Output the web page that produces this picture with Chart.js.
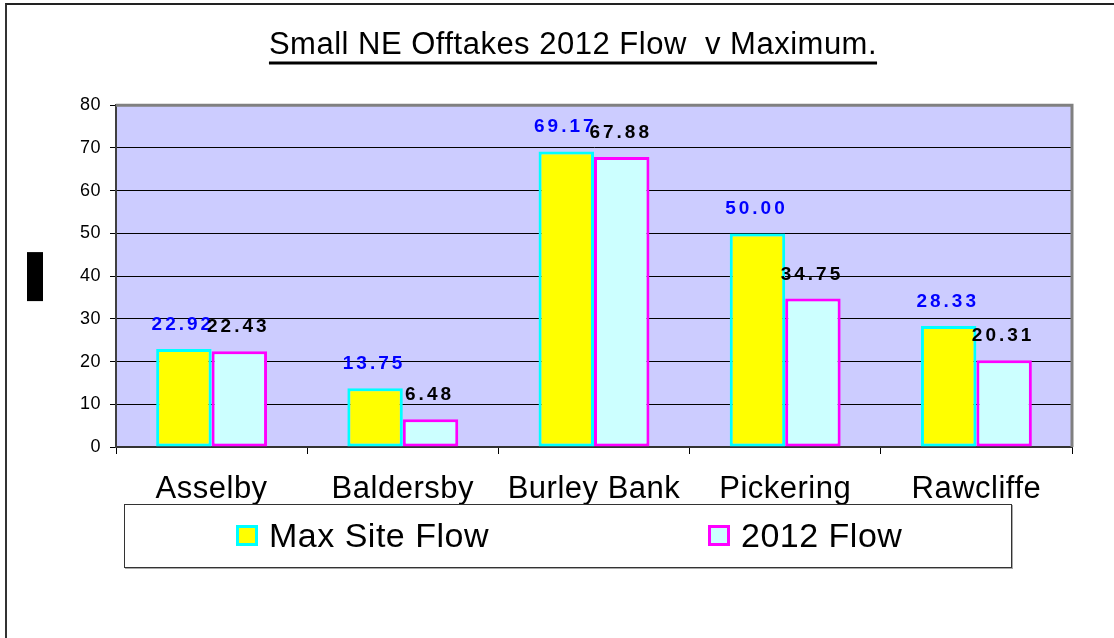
<!DOCTYPE html>
<html>
<head>
<meta charset="utf-8">
<title>Small NE Offtakes 2012 Flow v Maximum</title>
<script src="https://cdn.jsdelivr.net/npm/chart.js@4/dist/chart.umd.min.js"></script>
<style>
    body { margin: 0; background: #fff; font-family: "Liberation Sans", Arial, sans-serif; }
    #wrap { position: relative; width: 1114px; height: 638px; overflow: hidden; }
    #frame { position: absolute; left: 5px; top: 3px; width: 1200px; height: 700px;
             border-left: 2px solid #333; border-top: 2px solid #222; }
    #chart { position: absolute; left: 0; top: 0; }
    #legend { position: absolute; left: 124px; top: 504px; width: 886px; height: 62px;
              border: 1px solid #333; box-shadow: 1px 1px 0 #aaa; background: #fff; }
    .item { position: absolute; top: 0; height: 60px; display: flex; align-items: center;
            font-size: 34px; letter-spacing: 0.5px; color: #000; white-space: nowrap; }
    .swatch { width: 16px; height: 15px; border: 3px solid; margin-right: 11px; }
</style>
</head>
<body>
<div id="wrap">
    <div id="frame"></div>
    <canvas id="chart" width="1114" height="638"></canvas>
    <div id="legend"></div>
</div>
<script>
const titleText = 'Small NE Offtakes 2012 Flow  v Maximum.';
const sites = ['Asselby', 'Baldersby', 'Burley Bank', 'Pickering', 'Rawcliffe'];
const maxSiteFlow = [22.92, 13.75, 69.17, 50.00, 28.33];
const flow2012 = [22.43, 6.48, 67.88, 34.75, 20.31];
const yMin = 0;
const yMax = 80;
const yStep = 10;

const labelColors = ['#0000FF', '#000000'];
const titlePadTop = 27;

Chart.defaults.font.family = '"Liberation Sans", Arial, sans-serif';
Chart.defaults.color = '#000';

// plot fill, gray frame, underline, value labels
const decorations = {
    id: 'decorations',
    beforeDraw(chart) {
        const { ctx, chartArea: a } = chart;
        ctx.save();
        ctx.fillStyle = '#CCCCFF';
        ctx.fillRect(a.left, a.top, a.width, a.height);
        ctx.restore();
        ctx.letterSpacing = '0.5px';
    },
    afterDatasetsDraw(chart) {
        const { ctx, chartArea: a } = chart;
        ctx.save();
        ctx.strokeStyle = '#808080';
        ctx.lineWidth = 3;
        ctx.beginPath();
        ctx.moveTo(a.left, a.top);
        ctx.lineTo(a.right, a.top);
        ctx.lineTo(a.right, a.bottom);
        ctx.stroke();

        ctx.font = 'bold 19px "Liberation Sans", Arial, sans-serif';
        ctx.letterSpacing = '3px';
        ctx.textAlign = 'center';
        ctx.textBaseline = 'alphabetic';
        chart.data.datasets.forEach((ds, i) => {
            ctx.fillStyle = labelColors[i];
            chart.getDatasetMeta(i).data.forEach((bar, j) => {
                ctx.fillText(ds.data[j].toFixed(2), bar.x - 1, bar.y - 19);
            });
        });
        ctx.restore();
    },
    afterDraw(chart) {
        const { ctx, chartArea: a } = chart;
        const tb = chart.titleBlock;
        ctx.save();
        ctx.font = '31px "Liberation Sans", Arial, sans-serif';
        ctx.letterSpacing = '0.5px';
        const w = ctx.measureText(titleText).width;
        const cx = (tb.left + tb.right) / 2;
        const uy = tb.top + titlePadTop + 36;
        ctx.strokeStyle = '#000';
        ctx.lineWidth = 3;
        ctx.beginPath();
        ctx.moveTo(cx - w / 2, uy);
        ctx.lineTo(cx + w / 2, uy);
        ctx.stroke();

        // axis title box left of the plot
        const midY = (a.top + a.bottom) / 2;
        ctx.fillStyle = '#000';
        ctx.fillRect(27, midY - 24, 16, 49);
        ctx.restore();
        ctx.letterSpacing = '0px';
    }
};

const chart = new Chart(document.getElementById('chart'), {
    type: 'bar',
    data: {
        labels: sites,
        datasets: [
            {
                label: 'Max Site Flow',
                data: maxSiteFlow,
                backgroundColor: '#FFFF00',
                borderColor: '#00FFFF',
                borderWidth: 3,
                borderSkipped: false
            },
            {
                label: '2012 Flow',
                data: flow2012,
                backgroundColor: '#CCFFFF',
                borderColor: '#FF00FF',
                borderWidth: 3,
                borderSkipped: false
            }
        ]
    },
    options: {
        responsive: false,
        animation: false,
        devicePixelRatio: 1,
        layout: { padding: { left: 74, right: 42, top: 0, bottom: 131 } },
        datasets: {
            bar: { categoryPercentage: 0.58, barPercentage: 1.0 }
        },
        scales: {
            x: {
                grid: { offset: true, drawOnChartArea: false, color: '#000', tickLength: 7 },
                border: { color: '#333', width: 2 },
                ticks: { font: { size: 31 }, padding: 17, maxRotation: 0, autoSkip: false, color: '#000' },
                afterFit(scale) { scale.height = 60; }
            },
            y: {
                min: yMin,
                max: yMax,
                grid: { color: '#000', lineWidth: 1, tickLength: 6 },
                border: { color: '#404040', width: 2 },
                ticks: { stepSize: yStep, font: { size: 18 }, padding: 9, color: '#000' },
                afterFit(scale) { scale.width = 42; }
            }
        },
        plugins: {
            legend: { display: false },
            tooltip: { enabled: false },
            title: {
                display: true,
                text: titleText,
                color: '#000',
                font: { size: 31, weight: 'normal' },
                padding: { top: titlePadTop, bottom: 41 }
            }
        }
    },
    plugins: [decorations]
});

// legend box built from the chart's datasets
const legendEl = document.getElementById('legend');
const legendLeft = [111, 583];
chart.data.datasets.forEach((ds, i) => {
    const item = document.createElement('div');
    item.className = 'item';
    item.style.left = legendLeft[i] + 'px';
    const sw = document.createElement('span');
    sw.className = 'swatch';
    sw.style.background = ds.backgroundColor;
    sw.style.borderColor = ds.borderColor;
    item.appendChild(sw);
    item.appendChild(document.createTextNode(ds.label));
    legendEl.appendChild(item);
});
</script>
</body>
</html>
